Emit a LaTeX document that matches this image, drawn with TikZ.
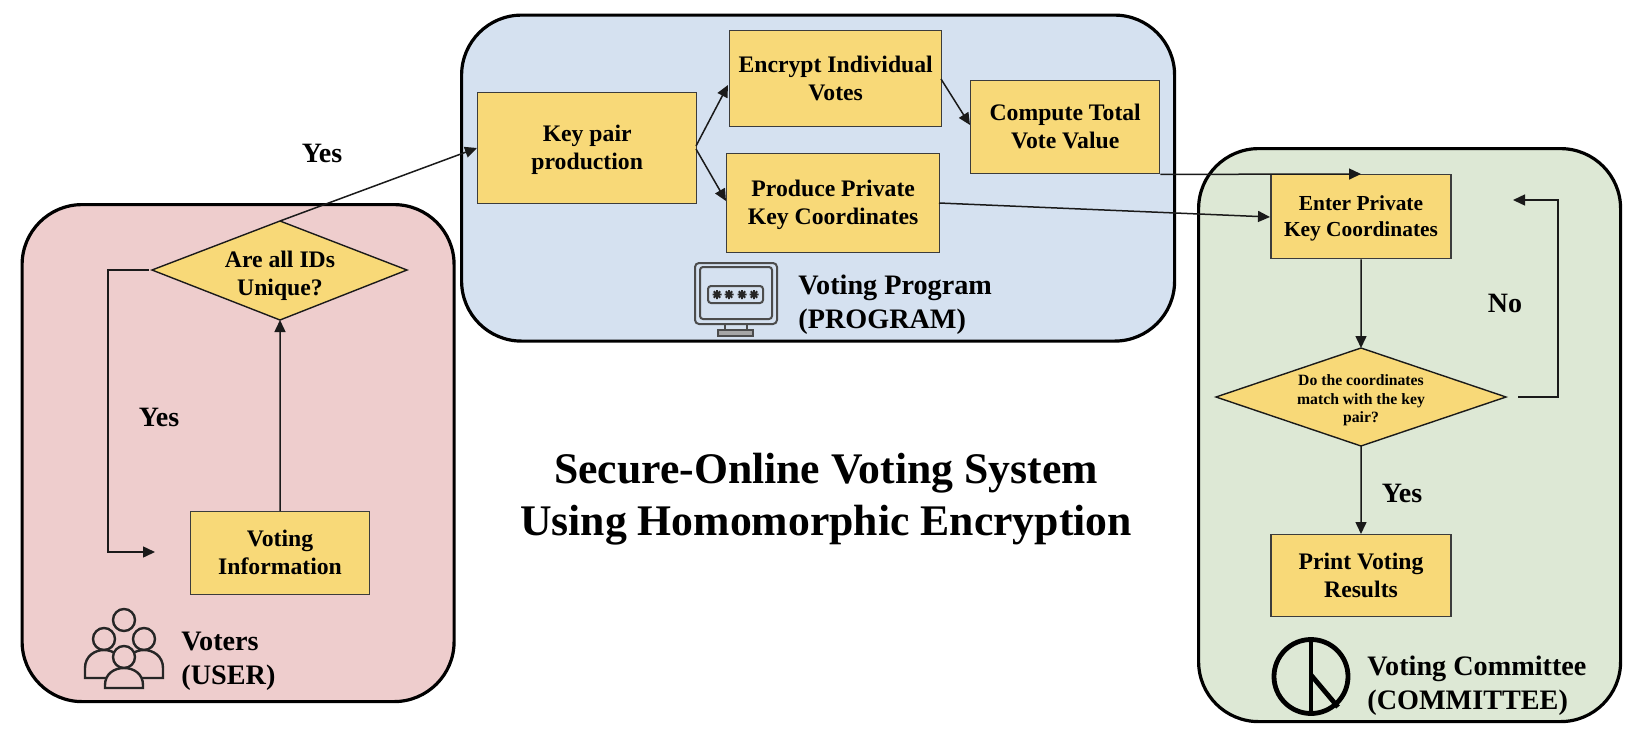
\documentclass[tikz,border=0pt]{standalone}
\usepackage{fontspec}
\setmainfont{Liberation Serif}
\usetikzlibrary{arrows.meta}
\definecolor{panelred}{HTML}{EECDCD}
\definecolor{panelblue}{HTML}{D5E1F0}
\definecolor{panelgreen}{HTML}{DDE8D5}
\definecolor{boxyellow}{HTML}{F8D978}
\definecolor{inkc}{HTML}{1A1A1A}
\normallineskiplimit=-20pt
\lineskiplimit=-20pt
\newcommand\ls{\rule[-.22em]{0pt}{1.08em}}
\tikzset{
  panel/.style={draw=black,line width=1.6pt,rounded corners=30pt,anchor=north west,inner sep=0pt},
  boxn/.style={draw=inkc!85!white,line width=0.7pt,fill=boxyellow,anchor=north west,inner sep=0pt,align=center,font=\bfseries\fontsize{11.85}{14}\selectfont},
  lab/.style={font=\bfseries\fontsize{14}{16}\selectfont,inner sep=0pt,text=black},
  captxt/.style={font=\bfseries\fontsize{14.1}{17}\selectfont,inner sep=0pt,align=left,anchor=west,text=black},
  conn/.style={draw=inkc,line width=0.75pt,-{Triangle[length=6pt,width=5.5pt]}},
  iconline/.style={draw=black!85,line width=1.2pt,fill=none},
  dia/.style={draw=inkc,line width=0.7pt,fill=boxyellow,line join=miter}
}
\begin{document}
\begin{tikzpicture}[x=0.5pt,y=-0.5pt]
\useasboundingbox[fill=white] (0,0) rectangle (1634,740);
% panels
\node[panel,fill=panelred,minimum width=216pt,minimum height=248.5pt] (pu) at (20.5,203) {};
\node[panel,fill=panelblue,minimum width=356.5pt,minimum height=163pt] (pp) at (460,13.5) {};
% boxes
\node[boxn,minimum width=109.5pt,minimum height=55.5pt] (keyp) at (477,92) {\ls Key pair\\\ls production};
\node[boxn,minimum width=106pt,minimum height=48pt] (encr) at (729,30) {\ls Encrypt Individual\\\ls Votes};
\node[boxn,minimum width=94.5pt,minimum height=46.5pt] (comp) at (970,80) {\ls Compute Total\\\ls Vote Value};
\node[boxn,minimum width=106.5pt,minimum height=49.5pt] (prod) at (726,153) {\ls Produce Private\\\ls Key Coordinates};
\node[panel,fill=panelgreen,minimum width=211pt,minimum height=286.5pt] (pc) at (1197,147) {};
\node[boxn,minimum width=90pt,minimum height=42pt,font=\bfseries\fontsize{10.7}{13}\selectfont] (ent) at (1270.3,174) {\ls Enter Private\\\ls Key Coordinates};
\node[boxn,minimum width=90pt,minimum height=41pt] (prnt) at (1270.3,534) {\ls Print Voting\\\ls Results};
\node[boxn,minimum width=89.5pt,minimum height=41.5pt] (vinfo) at (189.8,511) {\ls Voting\\\ls Information};
% diamonds
\coordinate (dat) at (280,221); \coordinate (dar) at (407,270); \coordinate (dab) at (280,320); \coordinate (dal) at (152,270);
\draw[dia] (dat) -- (dar) -- (dab) -- (dal) -- cycle;
\node[align=center,inner sep=0pt,font=\bfseries\fontsize{11.85}{14}\selectfont] (dalabel) at (280,274) {\ls Are all IDs\\\ls Unique?};
\coordinate (dmt) at (1361,348); \coordinate (dmr) at (1506,397); \coordinate (dmb) at (1361,446); \coordinate (dml) at (1216,397);
\draw[dia] (dmt) -- (dmr) -- (dmb) -- (dml) -- cycle;
\node[align=center,inner sep=0pt,font=\bfseries\fontsize{7.85}{9.4}\selectfont] (dmlabel) at (1361,399) {\ls Do the coordinates\\\ls match with the key\\\ls pair?};
% connectors
\draw[conn] (vinfo.north) -- (dab);
\coordinate (a1) at (108,270); \coordinate (a2) at (108,552); \coordinate (a3) at (155,552);
\coordinate (a0) at (149,270);
\draw[conn] (a0) -- (a1) -- (a2) -- (a3);
\coordinate (kl) at (477,148);
\draw[conn] (dat) -- (kl);
\coordinate (k1) at (696,146); \coordinate (e1) at (728,85); \coordinate (k2) at (696,149); \coordinate (p1) at (726,201);
\draw[conn] (k1) -- (e1);
\draw[conn] (k2) -- (p1);
\coordinate (e2) at (941,79); \coordinate (c1) at (970,125);
\draw[conn] (e2) -- (c1);
\draw[conn] (comp.south east) -- (ent.north);
\coordinate (p2) at (939,203); \coordinate (en1) at (1270,217);
\draw[conn] (p2) -- (en1);
\draw[conn] (ent.south) -- (dmt);
\draw[conn] (dmb) -- (prnt.north);
\coordinate (m1) at (1518,397); \coordinate (m2) at (1558,397); \coordinate (m3) at (1558,200); \coordinate (m4) at (1513,200);
\draw[conn] (m1) -- (m2) -- (m3) -- (m4);
% labels
\node[lab] (ly1) at (322,153) {Yes};
\node[lab] (ly2) at (159,417) {Yes};
\node[lab] (ln) at (1505,303) {No};
\node[lab] (ly3) at (1402,493) {Yes};
\node[font=\bfseries\fontsize{21.85}{26}\selectfont,align=center,inner sep=0pt] (title) at (826,499.5) {Secure-Online Voting System\\Using Homomorphic Encryption};
\node[captxt] (cu) at (181,658) {\ls Voters\\\ls (USER)};
\node[captxt] (cp) at (798,302) {\ls Voting Program\\\ls (PROGRAM)};
\node[captxt] (cc) at (1367,683) {\ls Voting Committee\\\ls (COMMITTEE)};
% voters icon
\begin{scope}[iconline]
\draw (124,620) circle (11);
\draw (104,639) circle (11);
\draw (144,639) circle (11);
\draw[fill=panelred] (85,678) -- (85,668) .. controls (85,656) and (95,650) .. (104,650) .. controls (113,650) and (123,656) .. (123,668) -- (123,678) -- cycle;
\draw[fill=panelred] (125,678) -- (125,668) .. controls (125,656) and (135,650) .. (144,650) .. controls (153,650) and (163,656) .. (163,668) -- (163,678) -- cycle;
\draw[fill=panelred] (124,657) circle (11);
\draw[fill=panelred] (105,688) -- (105,685) .. controls (105,674) and (114,668) .. (124,668) .. controls (134,668) and (143,674) .. (143,685) -- (143,688) -- cycle;
\end{scope}
% monitor icon
\begin{scope}[draw=black!70,line width=1pt]
\draw[rounded corners=2pt] (695,263) rectangle (777,324);
\draw[rounded corners=1.5pt] (700,267) rectangle (772,319);
\draw[rounded corners=1.5pt] (708,286) rectangle (763,303);
\draw (725,324) -- (725,330) (747,324) -- (747,330);
\draw[fill=black!35] (718,330) rectangle (753,336);
\foreach \sx in {717,729,742,754}{
  \draw[black!85,line width=0.9pt] (\sx-4.5,294.5) -- (\sx+4.5,294.5) (\sx,290) -- (\sx,299) (\sx-3.2,291.3) -- (\sx+3.2,297.7) (\sx-3.2,297.7) -- (\sx+3.2,291.3);
}
\end{scope}
% committee icon
\draw[black,line width=2.4pt] (1311,676.5) circle (37);
\draw[black,line width=2.4pt] (1311,640) -- (1311,713);
\draw[black,line width=2.4pt] (1311,675) -- (1338,707);
\end{tikzpicture}
\end{document}
